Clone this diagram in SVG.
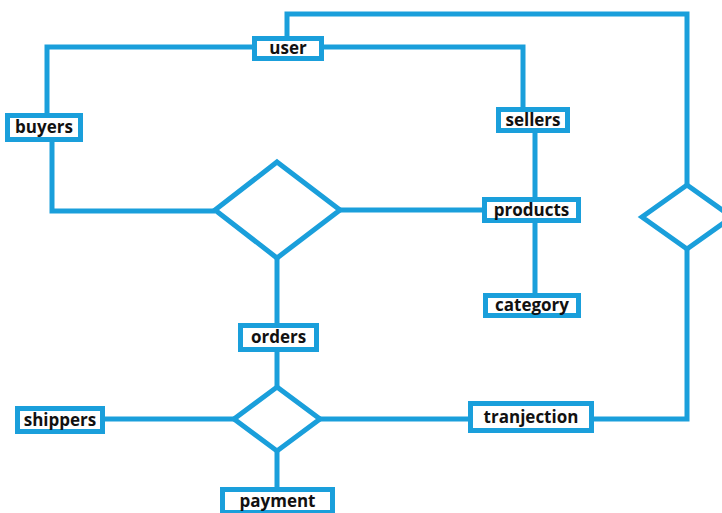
<svg xmlns="http://www.w3.org/2000/svg" width="722" height="513" viewBox="0 0 722 513">
<style>
.c{fill:none;stroke:#1a9fdb;stroke-width:5}
.n{fill:#fff;stroke:#1a9fdb;stroke-width:5}
.t{font-family:"Open Sans","Liberation Sans",sans-serif;font-weight:bold;font-size:17px;fill:#111;text-anchor:middle;dominant-baseline:central}
</style>
<rect width="722" height="513" fill="#fff"/>
<g id="connectors">
<polyline class="c" points="287,38 287,14 687,14 687,185"/>
<polyline class="c" points="687,249 687,419 592,419"/>
<polyline class="c" points="255,47 47,47 47,116"/>
<polyline class="c" points="52,139 52,211 215,211"/>
<polyline class="c" points="321,47 523,47 523,110"/>
<line class="c" x1="535" y1="130" x2="535" y2="200"/>
<line class="c" x1="340" y1="210" x2="485" y2="210"/>
<line class="c" x1="535" y1="220" x2="535" y2="296"/>
<line class="c" x1="277" y1="258" x2="277" y2="326"/>
<line class="c" x1="277" y1="349" x2="277" y2="387"/>
<line class="c" x1="103" y1="419" x2="234" y2="419"/>
<line class="c" x1="320" y1="419" x2="471" y2="419"/>
<line class="c" x1="277" y1="451" x2="277" y2="490"/>
</g>
<g id="user"><rect class="n" x="254.5" y="38.5" width="67" height="20"/><text class="t" x="288" y="47.5">user</text></g>
<g id="buyers"><rect class="n" x="7.5" y="115.5" width="73" height="24"/><text class="t" x="44" y="126.5">buyers</text></g>
<g id="sellers"><rect class="n" x="498.5" y="109.5" width="69" height="21"/><text class="t" x="533" y="119.5">sellers</text></g>
<g id="products"><rect class="n" x="484.5" y="199.5" width="94" height="21"/><text class="t" x="531.5" y="209">products</text></g>
<g id="category"><rect class="n" x="485.5" y="295.5" width="93" height="20"/><text class="t" x="532" y="304.5">category</text></g>
<g id="orders"><rect class="n" x="240.5" y="325.5" width="76" height="24"/><text class="t" x="278.5" y="336.5">orders</text></g>
<g id="shippers"><rect class="n" x="17.5" y="408.5" width="85" height="23"/><text class="t" x="60" y="419">shippers</text></g>
<g id="tranjection"><rect class="n" x="470.5" y="403.5" width="121" height="27"/><text class="t" x="531" y="416">tranjection</text></g>
<g id="payment"><rect class="n" x="222.5" y="489.5" width="110" height="23"/><text class="t" x="277.5" y="500.5">payment</text></g>
<g id="rel-orders"><polygon class="n" points="277,162 340,210 277,258 215,210"/></g>
<g id="rel-user"><polygon class="n" points="687,185 732,217 687,249 642,217"/></g>
<g id="rel-payment"><polygon class="n" points="277,387 320,419 277,451 234,419"/></g>
</svg>
